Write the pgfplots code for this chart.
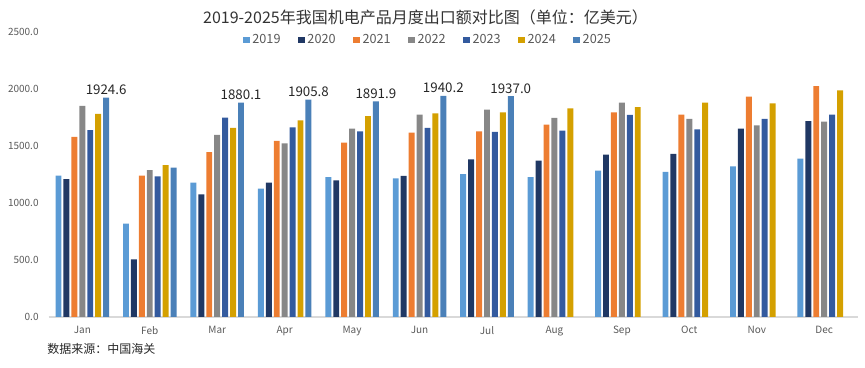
\documentclass[border=0pt]{standalone}
\usepackage{pgfplots}
\pgfplotsset{compat=1.18}
\usepackage{fontspec}
\setmainfont{Noto Sans CJK SC}
\definecolor{c2019}{HTML}{5B9BD5}
\definecolor{c2020}{HTML}{203864}
\definecolor{c2021}{HTML}{ED7D31}
\definecolor{c2022}{HTML}{878787}
\definecolor{c2023}{HTML}{335A9E}
\definecolor{c2024}{HTML}{D4A000}
\definecolor{c2025}{HTML}{4A80B8}
\definecolor{tickgray}{HTML}{595959}
\begin{document}
\begin{tikzpicture}
\useasboundingbox (0pt,0pt) rectangle (648.75pt,276pt);
\node[font=\fontsize{12}{14}\selectfont, text=black!80] at (319.1pt,263.25pt) {2019-2025年我国机电产品月度出口额对比图（单位：亿美元）};
\node[anchor=west, font=\fontsize{9}{11}\selectfont, text=black!85, inner sep=0pt] at (35.25pt,14.25pt) {数据来源：中国海关};
\begin{axis}[
  at={(36.45pt,38.25pt)}, anchor=south west,
  scale only axis, width=607pt, height=213.75pt,
  xmin=-0.5, xmax=11.5, ymin=0, ymax=2500,
  ybar=1.5pt, bar width=4.45pt,
  axis x line*=bottom, axis y line*=left,
  y axis line style={draw=none},
  x axis line style={draw=black!15, line width=0.8pt},
  major tick length=0pt,
  xtick={0,...,11},
  xticklabels={Jan,Feb,Mar,Apr,May,Jun,Jul,Aug,Sep,Oct,Nov,Dec},
  ytick={0,500,...,2500},
  yticklabel style={/pgf/number format/fixed, /pgf/number format/fixed zerofill, /pgf/number format/precision=1, /pgf/number format/1000 sep={}, xshift=-4pt},
  /pgf/number format/assume math mode=true,
  tick label style={font=\fontsize{7.5}{9}\selectfont, text=tickgray},
  xticklabel style={yshift=-3.5pt},
  legend columns=7,
  legend style={draw=none, fill=none, at={(0.469,0.972)}, anchor=center,
    font=\fontsize{9.5}{11}\selectfont, text=tickgray,
    /tikz/every even column/.append style={column sep=11pt}},
  legend image code/.code={\fill[#1] (0pt,-2.6pt) rectangle (5.2pt,2.6pt);},
  every axis plot/.append style={draw=none},
]
\addplot[fill=c2019] coordinates {(0,1240) (1,819) (2,1178) (3,1126) (4,1228) (5,1216) (6,1254) (7,1228) (8,1284) (9,1272) (10,1322) (11,1389)};
\addlegendentry{2019}
\addplot[fill=c2020] coordinates {(0,1210) (1,506) (2,1076) (3,1178) (4,1199) (5,1237) (6,1383) (7,1371) (8,1424) (9,1430) (10,1652) (11,1719)};
\addlegendentry{2020}
\addplot[fill=c2021] coordinates {(0,1579) (1,1240) (2,1447) (3,1544) (4,1529) (5,1617) (6,1629) (7,1687) (8,1795) (9,1775) (10,1933) (11,2026)};
\addlegendentry{2021}
\addplot[fill=c2022] coordinates {(0,1851) (1,1289) (2,1597) (3,1523) (4,1652) (5,1775) (6,1819) (7,1746) (8,1880) (9,1737) (10,1681) (11,1713)};
\addlegendentry{2022}
\addplot[fill=c2023] coordinates {(0,1640) (1,1234) (2,1749) (3,1664) (4,1629) (5,1658) (6,1623) (7,1635) (8,1772) (9,1646) (10,1737) (11,1775)};
\addlegendentry{2023}
\addplot[fill=c2024] coordinates {(0,1781) (1,1333) (2,1658) (3,1725) (4,1763) (5,1787) (6,1795) (7,1830) (8,1842) (9,1880) (10,1874) (11,1988)};
\addlegendentry{2024}
\addplot[fill=c2025, point meta=explicit symbolic,
  nodes near coords, every node near coord/.append style={font=\fontsize{10}{12}\selectfont, text=black!85, inner sep=2pt}]
  coordinates {(0,1924.6) [1924.6] (1,1310) [] (2,1880.1) [1880.1] (3,1905.8) [1905.8] (4,1891.9) [1891.9] (5,1940.2) [1940.2] (6,1937.0) [1937.0]};
\addlegendentry{2025}
\end{axis}
\end{tikzpicture}
\end{document}
